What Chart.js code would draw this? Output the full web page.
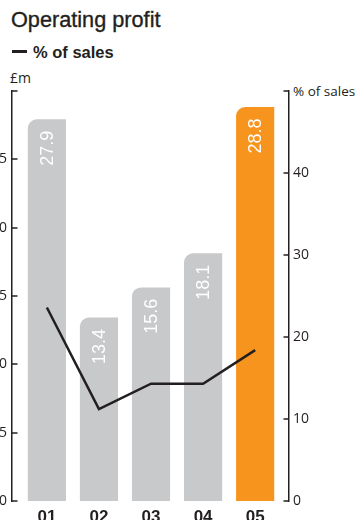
<!DOCTYPE html>
<html>
<head>
<meta charset="utf-8">
<script src="https://cdn.jsdelivr.net/npm/chart.js@4"></script>
<style>
  html, body { margin:0; padding:0; width:358px; height:520px; overflow:hidden; background:#fff; }
  #title { position:absolute; left:11px; top:9px; font:21.7px "Liberation Sans", Arial, sans-serif; color:#231f20; line-height:21px; white-space:nowrap; -webkit-text-stroke:0.35px #231f20; }
  #legend { position:absolute; left:12px; top:44px; font:bold 16.5px "Liberation Sans", Arial, sans-serif; color:#231f20; line-height:17px; white-space:nowrap; }
  #legend .dash { display:inline-block; width:15px; height:3px; background:#231f20; vertical-align:middle; margin-right:6px; position:relative; top:-2px; }
  #ylab { position:absolute; left:10px; top:69px; font:14px "Open Sans", sans-serif; color:#231f20; line-height:18px; }
  #y1lab { position:absolute; left:293px; top:82px; font:13.5px "Open Sans", sans-serif; color:#231f20; line-height:18px; white-space:nowrap; }
  #c { position:absolute; left:-30px; top:0; }
</style>
</head>
<body>
<div id="title">Operating profit</div>
<div id="legend"><span class="dash"></span>% of sales</div>
<div id="ylab">£m</div>
<div id="y1lab">% of sales</div>
<canvas id="c" width="400" height="540"></canvas>
<script>
const categories = ['01', '02', '03', '04', '05'];
const profit = [27.9, 13.4, 15.6, 18.1, 28.8];
const pctSales = [23.6, 11.2, 14.3, 14.3, 18.4];
const leftTicks = [0, 5, 10, 15, 20, 25, 30];
const rightTicks = [0, 10, 20, 30, 40, 50];
const barColors = ['#c8c9cb', '#c8c9cb', '#c8c9cb', '#c8c9cb', '#f7941d'];

const INK = '#231f20';
const tickFont = { family: '"Open Sans", sans-serif', size: 14 };

const tickMarks = {
  id: 'tickMarks',
  afterDraw(chart) {
    const ctx = chart.ctx;
    const area = chart.chartArea;
    ctx.save();
    ctx.strokeStyle = INK;
    ctx.lineWidth = 1.5;
    const y = chart.scales.y, y1 = chart.scales.y1;
    y.ticks.forEach(t => {
      const py = Math.round(y.getPixelForValue(t.value));
      ctx.beginPath(); ctx.moveTo(area.left, py); ctx.lineTo(area.left + 5.5, py); ctx.stroke();
    });
    y1.ticks.forEach(t => {
      const py = Math.round(y1.getPixelForValue(t.value));
      ctx.beginPath(); ctx.moveTo(area.right - 5.5, py); ctx.lineTo(area.right, py); ctx.stroke();
    });
    ctx.restore();
  }
};

const barLabels = {
  id: 'barLabels',
  afterDatasetsDraw(chart) {
    const ctx = chart.ctx;
    const meta = chart.getDatasetMeta(1);
    ctx.save();
    ctx.fillStyle = '#ffffff';
    ctx.font = '18px "Liberation Sans", Arial, sans-serif';
    ctx.textAlign = 'right';
    ctx.textBaseline = 'middle';
    meta.data.forEach((el, i) => {
      ctx.save();
      ctx.translate(el.x, el.y + 11);
      ctx.rotate(-Math.PI / 2);
      ctx.fillText(profit[i].toFixed(1), 0, 1);
      ctx.restore();
    });
    ctx.restore();
  }
};

new Chart(document.getElementById('c'), {
  type: 'bar',
  data: {
    datasets: [
      {
        type: 'line',
        label: '% of sales',
        data: pctSales.map((v, i) => ({ x: i, y: v })),
        xAxisID: 'x',
        yAxisID: 'y1',
        borderColor: INK,
        borderWidth: 2.5,
        pointRadius: 0,
        tension: 0,
        fill: false,
        order: 0
      },
      {
        type: 'bar',
        label: 'Operating profit',
        data: profit.map((v, i) => ({ x: i, y: v })),
        xAxisID: 'x',
        yAxisID: 'y',
        backgroundColor: barColors,
        barThickness: 37.5,
        borderRadius: { topLeft: 9, topRight: 0, bottomLeft: 0, bottomRight: 0 },
        order: 1
      }
    ]
  },
  options: {
    responsive: false,
    animation: false,
    devicePixelRatio: 1,
    layout: { padding: { top: 91, left: 0, right: 0, bottom: 0 } },
    plugins: { legend: { display: false }, tooltip: { enabled: false } },
    scales: {
      x: {
        type: 'linear',
        offset: false,
        min: -0.67,
        max: 4.65,
        afterBuildTicks: s => { s.ticks = categories.map((c, i) => ({ value: i })); },
        afterFit: s => { s.height = 39; },
        grid: { display: false, drawTicks: false },
        border: { display: false },
        ticks: {
          callback: v => categories[v],
          font: { family: '"Liberation Sans", Arial, sans-serif', size: 17, weight: 'bold' },
          color: INK,
          padding: 6,
          autoSkip: false,
          maxRotation: 0
        }
      },
      y: {
        position: 'left',
        min: 0,
        max: 30,
        afterBuildTicks: s => { s.ticks = leftTicks.map(v => ({ value: v })); },
        afterFit: s => { s.width = 42; },
        grid: { display: false, drawTicks: false },
        border: { display: true, color: INK, width: 1.5 },
        ticks: { callback: v => (v === 30 ? '' : v), font: tickFont, color: INK, padding: 5 }
      },
      y1: {
        position: 'right',
        min: 0,
        max: 50,
        afterBuildTicks: s => { s.ticks = rightTicks.map(v => ({ value: v })); },
        afterFit: s => { s.width = 81; },
        grid: { display: false, drawTicks: false },
        border: { display: true, color: INK, width: 1.5 },
        ticks: { callback: v => (v === 50 ? '' : v), font: tickFont, color: INK, padding: 4 }
      }
    }
  },
  plugins: [tickMarks, barLabels]
});
</script>
</body>
</html>
